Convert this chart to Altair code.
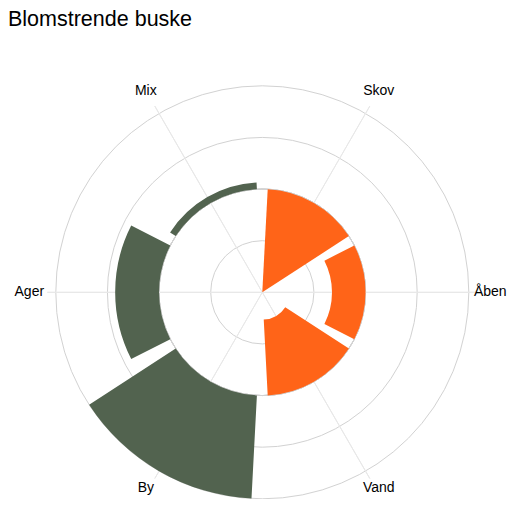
import math
import altair as alt
import pandas as pd

TITLE = "Blomstrende buske"
categories = ["Skov", "Åben", "Vand", "By", "Ager", "Mix"]
values = [-2.0, -0.65, -1.47, 2.0, 0.85, 0.13]
grid_values = [-1, 0, 1, 2]
right_edge_labels = ["Åben"]
bottom_labels = ["Vand", "By"]

ORANGE = "#ff6418"
GREEN = "#52634f"
GRID = "#d2d2d2"
SPOKE = "#e8e8e8"
FONT = "Liberation Sans"

PAD_TOP = 30
CX, CY = 254.3, 254.3
R_MAX = 206.5
R_LABEL = 233
SECTOR = 360 / len(categories)
GAP = 3

bars_df = pd.DataFrame({
    "cat": categories,
    "value": values,
    "slot": list(range(len(categories))),
    "base": [0.0] * len(categories),
})
grid_df = pd.DataFrame({"g": grid_values})

theta_scale = alt.Scale(domain=[0, 360], range=[0, 2 * math.pi])
r_scale = alt.Scale(type="linear", domain=[-2, 2], range=[0, R_MAX], zero=False, nice=False)
pos = dict(x=alt.value(CX), y=alt.value(CY))

base = alt.Chart(bars_df).transform_calculate(
    t0=f"datum.slot * {SECTOR} + {GAP}",
    t1=f"(datum.slot + 1) * {SECTOR} - {GAP}",
    tc=f"datum.slot * {SECTOR} + {SECTOR / 2}",
)

grid = alt.Chart(grid_df).mark_arc(
    theta=0, theta2=2 * math.pi, fillOpacity=0, stroke=GRID, strokeWidth=1
).encode(radius=alt.Radius("g:Q", scale=r_scale, stack=False), **pos)

spokes = base.mark_arc(
    radius=215, radius2=0, fillOpacity=0, stroke=SPOKE, strokeWidth=1
).encode(
    theta=alt.Theta("tc:Q", scale=theta_scale, stack=False),
    theta2="tc:Q",
    **pos,
)

bars = base.mark_arc(strokeWidth=0).encode(
    theta=alt.Theta("t0:Q", scale=theta_scale, stack=False),
    theta2="t1:Q",
    radius=alt.Radius("value:Q", scale=r_scale, stack=False),
    radius2="base:Q",
    color=alt.when(alt.datum.value < 0).then(alt.value(ORANGE)).otherwise(alt.value(GREEN)),
    **pos,
)

text_enc = dict(
    theta=alt.Theta("tc:Q", scale=theta_scale, stack=False),
    text="cat:N",
    **pos,
)
text_style = dict(radius=R_LABEL, fontSize=14, font=FONT, color="#000000",
                  align="center", baseline="middle")

edge = right_edge_labels + bottom_labels
labels_main = base.transform_filter(
    ~alt.FieldOneOfPredicate(field="cat", oneOf=edge)
).mark_text(**text_style).encode(**text_enc)
labels_right = base.transform_filter(
    alt.FieldOneOfPredicate(field="cat", oneOf=right_edge_labels)
).mark_text(dx=-5, **text_style).encode(**text_enc)
labels_bottom = base.transform_filter(
    alt.FieldOneOfPredicate(field="cat", oneOf=bottom_labels)
).mark_text(dy=-6, **text_style).encode(**text_enc)

chart = alt.layer(grid, spokes, bars, labels_main, labels_right, labels_bottom).properties(
    width=500,
    height=461,
    padding={"left": 0, "top": PAD_TOP, "right": 0, "bottom": 0},
    autosize=alt.AutoSizeParams(type="none"),
    title=alt.Title(
        TITLE, anchor="start", fontSize=21.5, font=FONT, fontWeight="normal",
        color="#000000", frame="group", offset=8,
    ),
).configure_view(stroke="transparent")

chart.save("out.html", embed_options={"renderer": "svg", "actions": False})
